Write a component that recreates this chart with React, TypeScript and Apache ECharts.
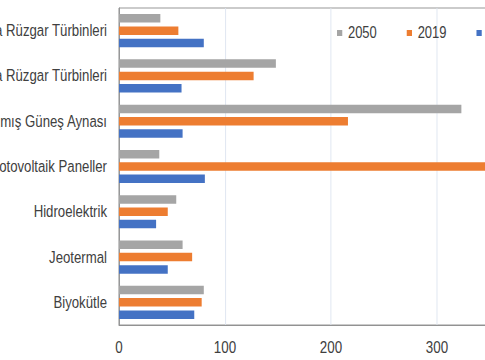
import React, { useEffect, useRef } from "react";
import * as echarts from "echarts";

const categories = [
  "Karada Rüzgar Türbinleri",
  "Kıyıdan Uzakta Rüzgar Türbinleri",
  "Yoğunlaştırılmış Güneş Aynası",
  "Fotovoltaik Paneller",
  "Hidroelektrik",
  "Jeotermal",
  "Biyokütle",
];
const seriesNames = ["2050", "2019", "2010"];
const values2050 = [39, 148, 323, 38, 54, 60, 80];
const values2019 = [56, 127, 216, 360, 46, 69, 78];
const values2010 = [80, 59, 60, 81, 35, 46, 71];
const colors = ["#A5A5A5", "#ED7D31", "#4472C4"];
const xTicks = [0, 100, 200, 300, 400];

const FONT = "'Liberation Sans', Arial, sans-serif";
const SX = 0.81; // horizontal squeeze of the original picture
const CHART_W = 700;
const GRID_LEFT = 119 / SX;
const PX_PER_100 = 106 / SX;

export default function App() {
  const ref = useRef<HTMLDivElement>(null);
  useEffect(() => {
    if (!ref.current) return;
    const chart = echarts.init(ref.current, undefined, { renderer: "svg" });
    const data = [values2050, values2019, values2010];
    chart.setOption({
      animation: false,
      backgroundColor: "#ffffff",
      textStyle: { fontFamily: FONT },
      legend: {
        data: seriesNames,
        left: 337 / SX,
        top: 25,
        padding: 0,
        icon: "rect",
        itemWidth: 6.5,
        itemHeight: 6,
        itemGap: 37,
        textStyle: { fontFamily: FONT, fontSize: 16, color: "#404040", padding: [0, 0, 0, 2] },
      },
      grid: {
        left: GRID_LEFT,
        top: 8,
        right: CHART_W - GRID_LEFT - PX_PER_100 * 4,
        bottom: 35,
        outerBoundsMode: "none",
        containLabel: false,
        show: true,
        borderColor: "#8c8c8c",
        borderWidth: 1,
      },
      xAxis: {
        type: "value",
        min: xTicks[0],
        max: xTicks[xTicks.length - 1],
        interval: 100,
        axisLine: { show: true, lineStyle: { color: "#8c8c8c" } },
        axisTick: { show: false },
        splitLine: { show: true, lineStyle: { color: "#dde4f0" } },
        axisLabel: { fontFamily: FONT, fontSize: 16.5, color: "#404040", margin: 13 },
      },
      yAxis: {
        type: "category",
        data: categories,
        inverse: true,
        axisLine: { show: true, lineStyle: { color: "#8c8c8c" } },
        axisTick: { show: false },
        axisLabel: { fontFamily: FONT, fontSize: 16.3, color: "#404040", margin: 12 / SX },
      },
      series: seriesNames.map((name, i) => ({
        name,
        type: "bar",
        data: data[i],
        barWidth: 8.5,
        barGap: "45%",
        itemStyle: { color: colors[i] },
      })),
    });
    return () => chart.dispose();
  }, []);
  return (
    <div
      style={{
        position: "fixed",
        left: 0,
        top: 0,
        width: 485,
        height: 360,
        overflow: "hidden",
        background: "#fff",
      }}
    >
      <div
        ref={ref}
        style={{
          position: "absolute",
          left: 0,
          top: 0,
          width: CHART_W,
          height: 360,
          transform: `scaleX(${SX})`,
          transformOrigin: "0 0",
        }}
      />
    </div>
  );
}
